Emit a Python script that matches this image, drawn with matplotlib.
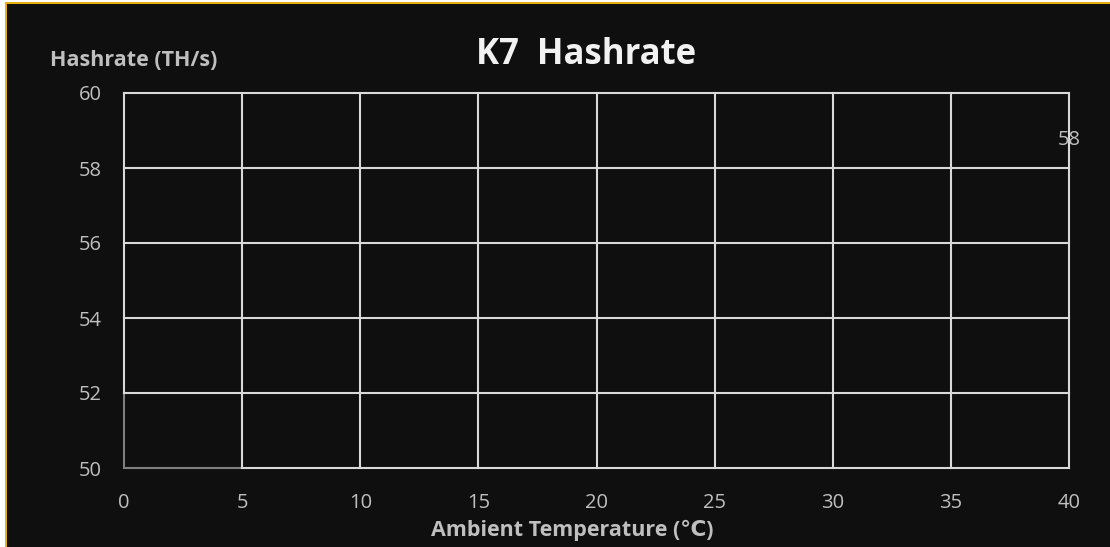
import matplotlib.pyplot as plt
from matplotlib.patches import Rectangle

plt.rcParams["font.family"] = ["Open Sans", "DejaVu Sans"]

# chart data
temp_ticks = [0, 5, 10, 15, 20, 25, 30, 35, 40]
hash_ticks = [50, 52, 54, 56, 58, 60]
point_temps = [40]
point_hashrates = [58]

title = "K7  Hashrate"
x_label = "Ambient Temperature (℃)"
y_label = "Hashrate (TH/s)"

bg = "#0f0f0f"
text_grey = "#bfbfbf"
grid_white = "#d9d9d9"
axis_grey = "#7f7f7f"
gold = "#e8b00c"

fig = plt.figure(figsize=(11.10, 5.47), dpi=100, facecolor="white")
W, H = 1110, 547
fig.patches.append(Rectangle((5 / W, 0), 1, 1 - 2 / H, transform=fig.transFigure,
                             facecolor=gold, edgecolor="none", zorder=-3))
fig.patches.append(Rectangle((7 / W, 0), 1, 1 - 4 / H, transform=fig.transFigure,
                             facecolor=bg, edgecolor="none", zorder=-2))

ax = fig.add_axes([124 / W, 1 - 468 / H, (1069 - 124) / W, (468 - 93) / H])
ax.set_facecolor(bg)
ax.set_xlim(temp_ticks[0], temp_ticks[-1])
ax.set_ylim(hash_ticks[0], hash_ticks[-1])
ax.set_xticks(temp_ticks)
ax.set_yticks(hash_ticks)
ax.tick_params(length=0, colors=text_grey, labelsize=14.5)
ax.tick_params(axis="x", pad=18)
ax.tick_params(axis="y", pad=16)

for s in ax.spines.values():
    s.set_visible(False)

# grey axis edges only show in the first cell; the rest is covered by white grid
ax.plot([temp_ticks[0], temp_ticks[0]], [hash_ticks[0], hash_ticks[1]], color=axis_grey, lw=1.5,
        clip_on=False, zorder=2)
ax.plot([temp_ticks[0], temp_ticks[1]], [hash_ticks[0], hash_ticks[0]], color=axis_grey, lw=1.5,
        clip_on=False, zorder=2)
for t in temp_ticks[1:]:
    ax.plot([t, t], [hash_ticks[0], hash_ticks[-1]], color=grid_white, lw=1.5, clip_on=False, zorder=3)
for h in hash_ticks[1:]:
    ax.plot([temp_ticks[0], temp_ticks[-1]], [h, h], color=grid_white, lw=1.5, clip_on=False, zorder=3)
ax.plot([temp_ticks[0], temp_ticks[0]], [hash_ticks[1], hash_ticks[-1]], color=grid_white, lw=1.5,
        clip_on=False, zorder=3)
ax.plot([temp_ticks[1], temp_ticks[-1]], [hash_ticks[0], hash_ticks[0]], color=grid_white, lw=1.5,
        clip_on=False, zorder=3)

for t, h in zip(point_temps, point_hashrates):
    ax.annotate(f"{h}", (t, h), xytext=(0, 20), textcoords="offset points",
                ha="center", va="center", color=text_grey, fontsize=14.5,
                annotation_clip=False)

fig.text(586 / W, 1 - 55 / H, title, ha="center", va="center", color="#f2f2f2",
         fontsize=25, fontweight="bold")
fig.text(50 / W, 1 - 61 / H, y_label, ha="left", va="center", color=text_grey,
         fontsize=15.5, fontweight="bold")
fig.text(572 / W, 1 - 530 / H, x_label, ha="center", va="center", color=text_grey,
         fontsize=15.5, fontweight="bold")

fig.savefig("out.png", dpi=100, facecolor=fig.get_facecolor())
